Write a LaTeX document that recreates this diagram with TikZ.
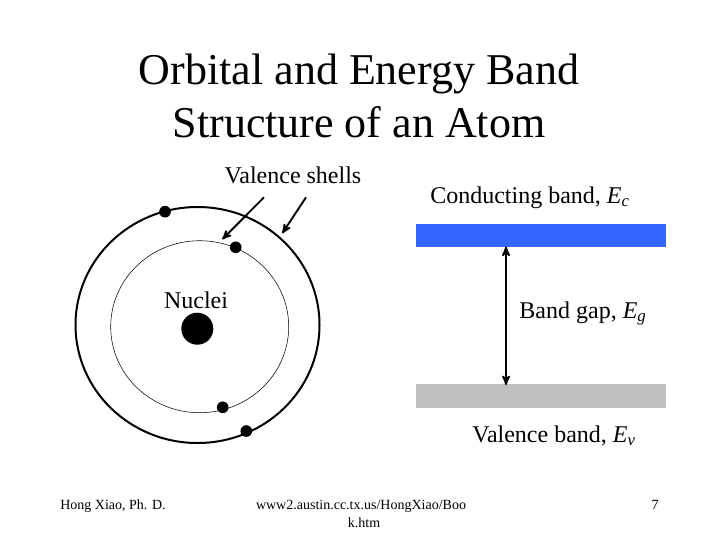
\documentclass[tikz,border=0pt]{standalone}
\usepackage{fontspec}
\setmainfont{Liberation Serif}
\usetikzlibrary{arrows,shapes.geometric}
\newcommand{\Eband}[1]{\textit{E}\textsubscript{\textit{#1}}}
\definecolor{bandblue}{HTML}{3366FF}
\definecolor{bandgray}{HTML}{C0C0C0}
\tikzset{
  label18/.style={font=\fontsize{18}{21}\selectfont,inner sep=0pt,anchor=base},
  title33/.style={font=\fontsize{33}{40}\selectfont,inner sep=0pt,anchor=base},
  foot10/.style={font=\fontsize{10.5}{13.5}\selectfont,inner sep=0pt,anchor=base},
  orbit/.style={ellipse,draw,inner sep=0pt},
  electron/.style={circle,fill=black,inner sep=0pt,minimum size=8.75pt},
  band/.style={rectangle,inner sep=0pt,minimum width=187.5pt}
}
\begin{document}
\begin{tikzpicture}[x=0.75pt,y=-0.75pt,>=stealth']
   \useasboundingbox (0,0) rectangle (720,540);

   \node[title33] (title1) at (359,84)  {Orbital and Energy Band};
   \node[title33] (title2) at (359,137) {Structure of an Atom};

   % atom
   \node[orbit,line width=1.5pt,minimum width=183pt,minimum height=177pt] (outer) at (197.5,325) {};
   \node[orbit,line width=0.4pt,minimum width=133.5pt,minimum height=129pt] (inner) at (199.7,326.7) {};
   \node[circle,fill=black,inner sep=0pt,minimum size=24pt] (nucleus) at (197.3,328.7) {};
   \node[electron] (e1) at (165,211.7) {};
   \node[electron] (e2) at (235.7,247.3) {};
   \node[electron] (e3) at (222.7,407.3) {};
   \node[electron] (e4) at (246.3,431) {};
   \node[label18] (nuclei) at (196,308) {Nuclei};
   \node[label18] (shells) at (293,183) {Valence shells};

   \coordinate (a1) at (264,197.3);
   \coordinate (b1) at (222.3,239.3);
   \coordinate (a2) at (306,197.3);
   \coordinate (b2) at (282.3,233.3);
   \path[->,line width=1.4pt] (a1) edge (b1)
                              (a2) edge (b2);

   % bands
   \node[band,fill=bandblue,minimum height=17pt] (conduction) at (541,235.3) {};
   \node[band,fill=bandgray,minimum height=18pt] (valence) at (541,396) {};
   \coordinate (gaptop) at (506,246.7);
   \coordinate (gapbot) at (506,385);
   \draw[<->,line width=1.4pt] (gaptop) -- (gapbot);

   \node[label18] (conductlabel) at (530,203) {Conducting band, \Eband{c}};
   \node[label18] (gaplabel) at (583,318) {Band gap, \Eband{g}};
   \node[label18] (valencelabel) at (554,442) {Valence band, \Eband{v}};

   % footer
   \node[foot10] (author) at (113,509) {Hong Xiao, Ph. D.};
   \node[foot10] (url1) at (361,509) {www2.austin.cc.tx.us/HongXiao/Boo};
   \node[foot10] (url2) at (364,527) {k.htm};
   \node[foot10] (page) at (655,509) {7};
\end{tikzpicture}
\end{document}
